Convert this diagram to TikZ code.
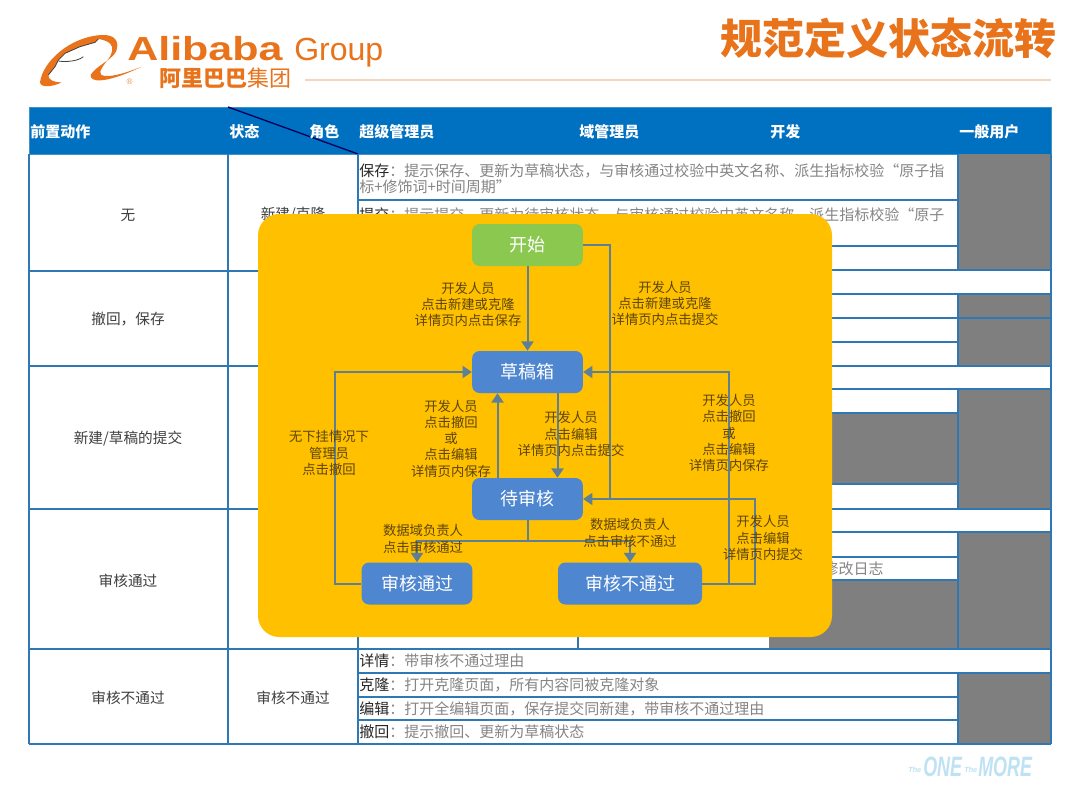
\documentclass[tikz,border=0pt]{standalone}
\usepackage{fontspec}
\usepackage{graphicx}
\setmainfont{Noto Sans CJK SC}
\newfontfamily\latinfont{Liberation Sans}
\usetikzlibrary{arrows.meta,calc}
\definecolor{hdrblue}{HTML}{0070C0}
\definecolor{gridblue}{HTML}{2F78B4}
\definecolor{greyfill}{HTML}{7F7F7F}
\definecolor{panelyellow}{HTML}{FFC000}
\definecolor{startgreen}{HTML}{8AC850}
\definecolor{stateblue}{HTML}{4E86D0}
\definecolor{connline}{HTML}{5E8096}
\definecolor{labeldark}{HTML}{5E4508}
\definecolor{aliorange}{HTML}{E8731B}
\definecolor{celltext}{HTML}{858585}
\definecolor{ruleline}{HTML}{F3D6BC}
\definecolor{footblue}{HTML}{BEE2F4}
\newcommand{\pxfont}[1]{\fontsize{#1}{#1}\selectfont}
\newcommand{\lbl}[1]{\textcolor{black!85}{#1}}
\tikzset{
  gridl/.style={draw=gridblue,line width=1.5pt},
  thinl/.style={draw=gridblue,line width=1.1pt},
  hdrtext/.style={anchor=west,inner sep=0pt,text=white,font=\pxfont{11.25}\bfseries},
  lefttext/.style={inner sep=0pt,text=black!75,font=\pxfont{11}},
  celltxt/.style={anchor=west,inner sep=0pt,text=celltext,font=\pxfont{11.25},align=left},
  stateb/.style={rounded corners=5.5pt,inner sep=0pt,text=white,font=\pxfont{13.5},minimum height=31.5pt},
  conn/.style={draw=connline,line width=1.5pt},
  arr/.style={conn,-{Triangle[length=7pt,width=9pt]}},
  flowlbl/.style={inner sep=0pt,text=labeldark,font=\fontsize{10}{12.2}\selectfont,align=center},
}
\begin{document}
\begin{tikzpicture}[x=0.75pt,y=-0.75pt]
\useasboundingbox (0,0) rectangle (1080,810);
\fill[white] (0,0) rectangle (1080,810);

% logo swoosh
\begin{scope}[shift={(30,25)},x=0.25pt,y=-0.25pt]
\fill[aliorange] (30,172) .. controls (38,110) and (120,35) .. (215,30)
  .. controls (255,28) and (270,50) .. (258,80)
  .. controls (245,105) and (195,125) .. (182,150)
  .. controls (178,172) and (225,178) .. (335,125)
  .. controls (285,145) and (235,160) .. (214,150)
  .. controls (203,140) and (222,120) .. (240,95)
  .. controls (255,65) and (245,48) .. (205,42)
  -- (195,52) -- (150,65) -- (105,85) -- (85,105) -- (75,125) -- (55,150)
  .. controls (55,165) and (70,172) .. (95,172)
  .. controls (70,185) and (32,190) .. (30,172) -- cycle;
\draw[black!75,line width=.6pt] (205,42) -- (195,52) -- (150,65) -- (105,85) -- (85,105) -- (75,125) -- (55,150);
\draw[black!75,line width=.6pt] (85,108) .. controls (110,112) and (145,108) .. (160,95);
\end{scope}
\node[inner sep=0pt,text=aliorange!80,font=\latinfont\pxfont{6}] (regmark) at (129.5,82) {\textregistered};
\node[anchor=base west,inner sep=0pt,text=aliorange,font=\latinfont\bfseries\pxfont{25}] (alibaba) at (127,60) {\scalebox{1.29}[1]{Alibaba}};
\node[anchor=base west,inner sep=0pt,text=aliorange,font=\latinfont\pxfont{24}] (group) at (294,60) {Group};
\node[anchor=west,inner sep=0pt,text=aliorange,font=\pxfont{16.5}] (alicn) at (159,78.5) {{\bfseries 阿里巴巴}集团};
\draw[ruleline,line width=.9pt] (305,80) -- (1051,80);
\node[anchor=east,inner sep=0pt,text=aliorange,font=\pxfont{31.5}\bfseries] (title) at (1057,38) {规范定义状态流转};

% header
\fill[hdrblue] (29,107) rectangle (1051,154);
\draw[draw=cyan!40!gridblue,line width=.7pt] (29,107) rectangle (1051,154);
\draw[draw=black!10!blue!40!black,line width=1pt] (228,107) -- (358,154);
\node[hdrtext] (h1) at (30,132) {前置动作};
\node[hdrtext] (h2) at (229,132) {状态};
\node[hdrtext] (h3) at (309,132) {角色};
\node[hdrtext] (h4) at (359,132) {超级管理员};
\node[hdrtext] (h5) at (579,132) {域管理员};
\node[hdrtext] (h6) at (770,132) {开发};
\node[hdrtext] (h7) at (959,132) {一般用户};

% grey fills
\fill[greyfill] (958,154) rectangle (1051,270);
\fill[greyfill] (958,294) rectangle (1051,366);
\fill[greyfill] (958,389) rectangle (1051,509);
\fill[greyfill] (958,532) rectangle (1051,649);
\fill[greyfill] (958,673) rectangle (1051,744);
\fill[greyfill] (769,413) rectangle (958,484);
\fill[greyfill] (769,580) rectangle (958,649);

% grid
\foreach \y in {271,366,509,649,744} \draw[gridl] (29,\y) -- (358,\y);
\foreach \y in {270,294,318,366,389,509,532,649,673,744} \draw[thinl] (358,\y) -- (1051,\y);
\foreach \y in {200,246,342,413,484,557,580,697,720} \draw[thinl] (358,\y) -- (958,\y);
\foreach \x in {29,228,358} \draw[gridl] (\x,154) -- (\x,744);
\draw[thinl] (578,580) -- (578,649);
\draw[thinl] (958,154) -- (958,270);
\draw[thinl] (958,294) -- (958,366);
\draw[thinl] (958,389) -- (958,509);
\draw[thinl] (958,532) -- (958,649);
\draw[thinl] (958,673) -- (958,744);
\draw[thinl] (1051,154) -- (1051,744);

% left columns
\node[lefttext] (l1) at (128,215) {无};
\node[lefttext] (l2) at (293,215) {新建/克隆};
\node[lefttext] (l3) at (128,319) {撤回，保存};
\node[lefttext] (l4) at (128,439) {新建/草稿的提交};
\node[lefttext] (l5) at (128,581) {审核通过};
\node[lefttext] (l6) at (128,698) {审核不通过};
\node[lefttext] (l7) at (293,698) {审核不通过};

% right cells
\node[celltxt] (c1) at (359,178.5) {\lbl{保存}：提示保存、更新为草稿状态，与审核通过校验中英文名称、派生指标校验“原子指\\[0.8pt]标+修饰词+时间周期”};
\node[celltxt] (c2) at (359,215) {\lbl{提交}：提示提交、更新为待审核状态，与审核通过校验中英文名称、派生指标校验“原子};
\node[celltxt,anchor=east] (c3) at (884,568.5) {修改日志};
\node[celltxt] (c4) at (359,661) {\lbl{详情}：带审核不通过理由};
\node[celltxt] (c5) at (359,685) {\lbl{克隆}：打开克隆页面，所有内容同被克隆对象};
\node[celltxt] (c6) at (359,708.5) {\lbl{编辑}：打开全编辑页面，保存提交同新建，带审核不通过理由};
\node[celltxt] (c7) at (359,732) {\lbl{撤回}：提示撤回、更新为草稿状态};

% footer mark
\node[anchor=base west,inner sep=0pt,text=footblue,font=\latinfont\bfseries\itshape\pxfont{5.5}] (ft1) at (908,772) {The};
\node[anchor=base west,inner sep=0pt,text=footblue,font=\latinfont\bfseries\itshape\pxfont{21}] (ft2) at (923,776) {\scalebox{.64}[1]{ONE}};
\node[anchor=base west,inner sep=0pt,text=footblue,font=\latinfont\bfseries\itshape\pxfont{5.5}] (ft3) at (964,772) {The};
\node[anchor=base west,inner sep=0pt,text=footblue,font=\latinfont\bfseries\itshape\pxfont{21}] (ft4) at (978,776) {\scalebox{.64}[1]{MORE}};

% panel
\fill[panelyellow,rounded corners=16pt] (258,214) rectangle (832,637);

% states
\node[stateb,fill=startgreen,minimum width=83pt] (start) at (527.5,245) {开始};
\node[stateb,fill=stateblue,minimum width=83pt] (draft) at (527.5,372) {草稿箱};
\node[stateb,fill=stateblue,minimum width=83pt] (pend) at (527.5,499) {待审核};
\node[stateb,fill=stateblue,minimum width=83pt] (pass) at (417,583.5) {审核通过};
\node[stateb,fill=stateblue,minimum width=108pt] (reject) at (630,583.5) {审核不通过};

% junctions
\coordinate (jS) at (610,499);
\coordinate (jR) at (755,499);
\coordinate (jB) at (729,583.5);
\coordinate (jL) at (335,372);
\coordinate (jM) at (527.5,541);

% connectors
\draw[arr] (start) -- (draft);
\draw[conn] (start.east) -| (jS);
\draw[arr] (reject.east) -| (jR) -- (pend.east);
\draw[arr] (jB) |- (draft.east);
\draw[arr] (pass.west) -| (jL) -- (draft.west);
\draw[arr] ([xshift=-22.5pt]pend.north) -- ([xshift=-22.5pt]draft.south);
\draw[arr] ([xshift=22.5pt]draft.south) -- ([xshift=22.5pt]pend.north);
\draw[conn] (pend.south) -- (jM);
\draw[arr] (jM) -| (pass.north);
\draw[arr] (jM) -| (reject.north);

% labels
\node[flowlbl] (f1) at (468,304.5) {开发人员\\点击新建或克隆\\详情页内点击保存};
\node[flowlbl] (f2) at (665,303.5) {开发人员\\点击新建或克隆\\详情页内点击提交};
\node[flowlbl] (f3) at (451,438.5) {开发人员\\点击撤回\\或\\点击编辑\\详情页内保存};
\node[flowlbl] (f4) at (571,434) {开发人员\\点击编辑\\详情页内点击提交};
\node[flowlbl] (f5) at (729,433) {开发人员\\点击撤回\\或\\点击编辑\\详情页内保存};
\node[flowlbl] (f6) at (329,453) {无下挂情况下\\管理员\\点击撤回};
\node[flowlbl] (f7) at (423,539) {数据域负责人\\点击审核通过};
\node[flowlbl] (f8) at (630,533) {数据域负责人\\点击审核不通过};
\node[flowlbl] (f9) at (763,538) {开发人员\\点击编辑\\详情页内提交};
\end{tikzpicture}
\end{document}
